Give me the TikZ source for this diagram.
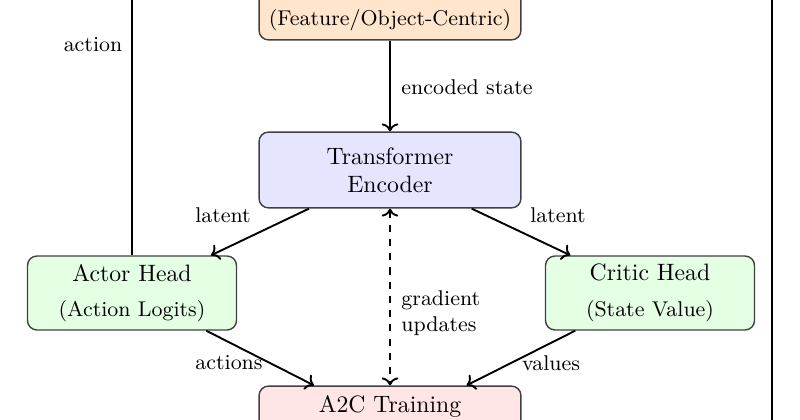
\documentclass[tikz,border=0pt]{standalone}
\usetikzlibrary{arrows.meta}
\begin{document}
\begin{tikzpicture}[x=0.42194pt,y=-0.42194pt,
  box/.style={draw=black!75, line width=0.6pt, rounded corners=4pt, align=center,
    minimum width=110.5pt, minimum height=32pt, inner sep=2pt, font=\normalsize,
    execute at begin node={\rule{0pt}{9pt}}},
  headbox/.style={box, minimum width=88.2pt, minimum height=31.2pt, fill=green!10},
  lbl/.style={font=\small, inner sep=0pt},
  conn/.style={thick, ->},
  line/.style={thick}
]
\useasboundingbox (0,0) rectangle (800,420);
\clip (0,0) rectangle (800,420);

\node[box, fill=orange!20] (obs) at (390,2) {\phantom{X}\\[3pt]{\small (Feature/Object-Centric)}};
\node[box, fill=blue!10] (trans) at (390,170) {Transformer\\Encoder};
\node[headbox] (actor) at (132,293) {Actor Head\\[3pt]{\small (Action Logits)}};
\node[headbox] (critic) at (650,293) {Critic Head\\[3pt]{\small (State Value)}};
\node[box, fill=red!10] (a2c) at (390,424) {A2C Training\\[3pt]{\small\phantom{(X)}}};

\coordinate (envL) at (132,-40);
\coordinate (corR) at (772,424);
\coordinate (envR) at (772,-40);

\draw[conn] (obs) -- (trans);
\draw[conn] (trans) -- (actor);
\draw[conn] (trans) -- (critic);
\draw[conn] (actor) -- (a2c);
\draw[conn] (critic) -- (a2c);
\draw[thick, dashed, <->] (trans) -- (a2c);
\draw[conn] (actor) -- (envL);
\draw[conn] (a2c) -- (corR) -- (envR);

\node[lbl, anchor=west] (lenc) at (401,87) {encoded state};
\node[lbl] (llatl) at (223,215) {latent};
\node[lbl] (llatr) at (558,215) {latent};
\node[lbl, anchor=west, align=left] (lgrad) at (401,313) {gradient\\updates};
\node[lbl] (lacts) at (229,363) {actions};
\node[lbl] (lvals) at (551,363) {values};
\node[lbl] (lact) at (93,45) {action};
\end{tikzpicture}
\end{document}
